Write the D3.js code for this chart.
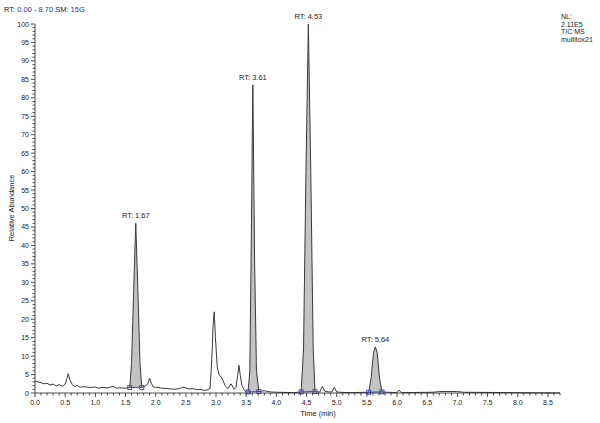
<!DOCTYPE html>
<html><head><meta charset="utf-8">
<script src="https://cdn.jsdelivr.net/npm/d3@7"></script>
<style>body{margin:0;background:#fff}svg{display:block}text{font-family:"Liberation Sans",Arial,sans-serif}</style>
</head><body><div id="c"></div>
<script>
// trace: time (min) and relative abundance
const times = [0.00,0.05,0.10,0.15,0.20,0.25,0.30,0.35,0.40,0.45,0.50,0.53,0.55,0.58,0.62,0.66,0.70,0.75,0.80,0.90,1.00,1.05,1.10,1.20,1.30,1.35,1.40,1.50,
 1.57,1.60,1.63,1.67,1.71,1.74,1.77,1.82,1.87,1.90,1.93,1.97,2.00,2.10,2.20,2.30,2.40,2.45,2.50,2.55,2.60,2.70,2.75,2.80,2.85,2.90,
 2.93,2.95,2.97,2.99,3.02,3.05,3.10,3.15,3.20,3.25,3.30,3.33,3.36,3.38,3.40,3.43,3.47,3.50,
 3.53,3.56,3.58,3.61,3.64,3.67,3.71,3.80,3.90,4.00,4.30,
 4.41,4.45,4.49,4.53,4.57,4.61,4.64,4.68,4.72,4.76,4.80,4.86,4.92,4.96,5.00,5.05,5.20,
 5.53,5.57,5.61,5.64,5.67,5.71,5.75,5.85,6.00,6.03,6.07,6.60,6.70,7.00,7.10,8.70];
const abund = [3.2,3.0,2.8,2.5,2.6,2.2,2.4,1.9,2.3,1.8,2.4,4.0,5.2,3.5,2.2,1.8,2.0,1.6,1.7,1.5,1.6,1.3,1.5,1.4,1.8,1.3,1.4,1.3,
 1.5,8,25,46,25,8,1.5,1.8,2.5,4.0,2.5,1.5,1.6,1.3,1.2,1.0,1.2,1.6,1.4,1.1,1.2,0.9,1.0,0.7,0.8,1.2,
 9,18,22,15,7,5,4,2,1.2,2.5,1.0,1.5,5,7.5,5,2,0.8,0.3,
 0.3,6,35,83.5,35,6,0.4,0.6,0.3,0.2,0.1,
 0.3,12,60,100,60,12,0.4,0.3,0.3,1.8,0.5,0.3,0.3,1.5,0.3,0.2,0.1,
 0.2,4,11,12.5,11,4,0.3,0.2,0.1,0.8,0.1,0.2,0.4,0.4,0.2,0.0];
// labelled (integrated) peaks
const peakRT = [1.67, 3.61, 4.53, 5.64];
const peakLabels = ["RT: 1.67","RT: 3.61","RT: 4.53","RT: 5.64"];
const peakStart = [1.57, 3.53, 4.41, 5.53];
const peakEnd = [1.77, 3.71, 4.64, 5.75];
const xTickLabels = ["0.0","0.5","1.0","1.5","2.0","2.5","3.0","3.5","4.0","4.5","5.0","5.5","6.0","6.5","7.0","7.5","8.0","8.5"];
const yTickLabels = ["0","5","10","15","20","25","30","35","40","45","50","55","60","65","70","75","80","85","90","95","100"];

const W=600,H=423;
const svg=d3.select("#c").append("svg").attr("width",W).attr("height",H);
const x=d3.scaleLinear().domain([0,8.70]).range([35,560]);
const y=d3.scaleLinear().domain([0,100]).range([393,24]);
const data=times.map((t,i)=>({t,a:abund[i]}));
const curve=d3.curveLinear;

// header
const hdr=svg.append("text").attr("x",4).attr("y",12).attr("font-size",7.5).attr("fill","#222");
hdr.append("tspan").text("RT: ");
hdr.append("tspan").attr("fill","#33338a").text("0.00 - 8.70");
hdr.append("tspan").text("   SM: ");
hdr.append("tspan").attr("fill","#33338a").text("15G");
["NL:","2.11E5","TIC  MS","multitox21"].forEach((s,i)=>svg.append("text").attr("x",561).attr("y",19+i*7.5).attr("font-size",7).attr("fill","#222").text(s));

// peak fills
const aAt=t=>{const i=times.indexOf(t);return abund[i];};
peakRT.forEach((rt,k)=>{
  const s=peakStart[k],e=peakEnd[k];
  const seg=data.filter(d=>d.t>=s&&d.t<=e);
  const as=aAt(s),ae=aAt(e);
  const base=t=>as+(ae-as)*(t-s)/(e-s);
  svg.append("path").datum(seg)
    .attr("d",d3.area().curve(curve).x(d=>x(d.t)).y1(d=>y(d.a)).y0(d=>y(base(d.t))))
    .attr("fill","#c3c3c3").attr("stroke","none");
});

// trace
svg.append("path").datum(data).attr("d",d3.line().curve(curve).x(d=>x(d.t)).y(d=>y(d.a)))
  .attr("fill","none").attr("stroke","#3a3a3a").attr("stroke-width",1).attr("stroke-linejoin","round");

// integration baselines
peakRT.forEach((rt,k)=>{
  const s=peakStart[k],e=peakEnd[k];
  const pts=[[s,aAt(s)],[e,aAt(e)]];
  svg.append("line").attr("x1",x(s)).attr("y1",y(pts[0][1])).attr("x2",x(e)).attr("y2",y(pts[1][1]))
    .attr("stroke","#3344cc").attr("stroke-width",1);
  pts.forEach(p=>svg.append("rect").attr("x",x(p[0])-2).attr("y",y(p[1])-2).attr("width",4).attr("height",4)
    .attr("fill","none").attr("stroke","#3344cc").attr("stroke-width",0.9));
  svg.append("text").attr("x",x(rt)).attr("y",y(aAt(rt))-5).attr("text-anchor","middle")
    .attr("font-size",7.5).attr("fill","#222").text(peakLabels[k]);
});

// axes
const ax=svg.append("g").attr("stroke","#222").attr("stroke-width",0.8);
ax.append("line").attr("x1",x(0)).attr("x2",x(8.70)).attr("y1",393).attr("y2",393);
ax.append("line").attr("x1",35).attr("x2",35).attr("y1",393).attr("y2",y(100));
d3.range(0,88).forEach(i=>{const t=i/10;const major=i%5===0;
  ax.append("line").attr("x1",x(t)).attr("x2",x(t)).attr("y1",393).attr("y2",393+(major?4:2.5));});
d3.range(0,101).forEach(v=>{const major=v%5===0;
  ax.append("line").attr("x1",35).attr("x2",35-(major?4:2.5)).attr("y1",y(v)).attr("y2",y(v));});
xTickLabels.forEach(s=>svg.append("text").attr("x",x(+s)).attr("y",405).attr("text-anchor","middle").attr("font-size",7).attr("fill","#222").text(s));
yTickLabels.forEach(s=>svg.append("text").attr("x",29).attr("y",y(+s)+2.5).attr("text-anchor","end").attr("font-size",7).attr("fill","#222").text(s));
svg.append("text").attr("x",318).attr("y",416).attr("text-anchor","middle").attr("font-size",7.5).attr("fill","#222").text("Time (min)");
svg.append("text").attr("transform","translate(14,208) rotate(-90)").attr("text-anchor","middle").attr("font-size",7.5).attr("fill","#222").text("Relative Abundance");
</script></body></html>
